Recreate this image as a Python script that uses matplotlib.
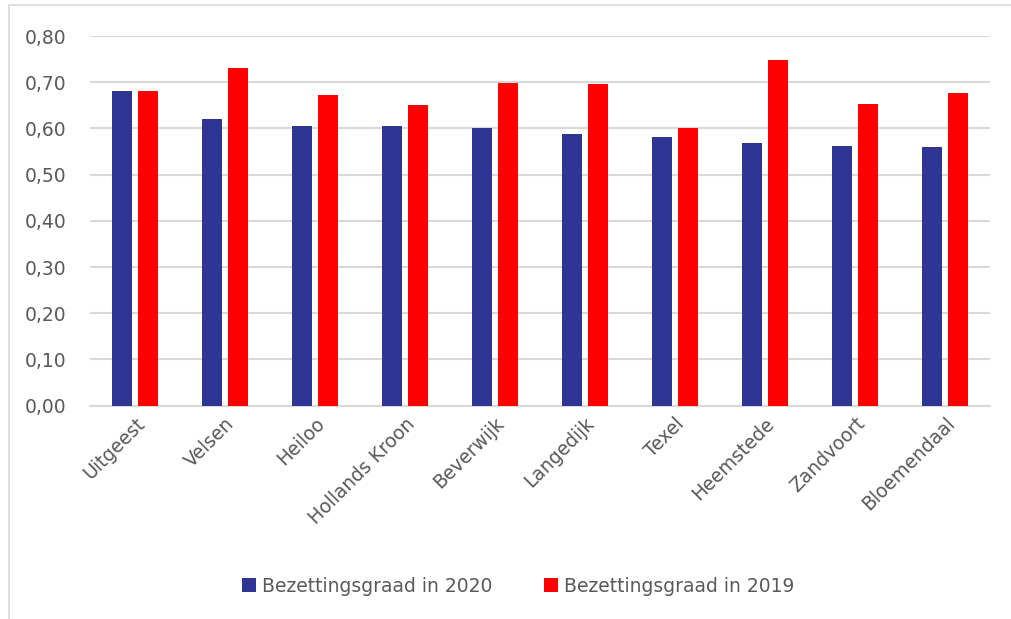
import numpy as np
import matplotlib.pyplot as plt
from matplotlib.ticker import FuncFormatter
from matplotlib.patches import Rectangle

# Bezettingsgraad per gemeente
gemeenten = ['Uitgeest', 'Velsen', 'Heiloo', 'Hollands Kroon', 'Beverwijk',
             'Langedijk', 'Texel', 'Heemstede', 'Zandvoort', 'Bloemendaal']
graad_2020 = [0.680, 0.621, 0.605, 0.605, 0.601, 0.588, 0.582, 0.568, 0.561, 0.559]
graad_2019 = [0.681, 0.731, 0.672, 0.651, 0.698, 0.696, 0.600, 0.748, 0.652, 0.677]

plt.rcParams['font.family'] = ['DejaVu Sans']
tekst_kleur = '#595959'
fs = 13.5

fig = plt.figure(figsize=(10.12, 6.19), dpi=100)
ax = fig.add_axes([0.0889, 0.3446, 0.8893, 0.5972])

x = np.arange(len(gemeenten))
breedte = 0.222
afstand = 0.067
ax.bar(x - (breedte + afstand) / 2, graad_2020, breedte, color='#2e3592',
       label='Bezettingsgraad in 2020', zorder=3)
ax.bar(x + (breedte + afstand) / 2, graad_2019, breedte, color='#ff0000',
       label='Bezettingsgraad in 2019', zorder=3)

ax.set_xlim(-0.5, len(gemeenten) - 0.5)
ax.set_ylim(0, 0.8)
ax.set_yticks(np.arange(0, 0.81, 0.1))
ax.yaxis.set_major_formatter(FuncFormatter(lambda v, p: f'{v:.2f}'.replace('.', ',')))
ax.grid(axis='y', color='#d9d9d9', lw=1.5, zorder=0)

ax.set_xticks(x)
ax.set_xticklabels(gemeenten, rotation=45, ha='right', rotation_mode='anchor')
ax.tick_params(axis='both', length=0, labelsize=fs, labelcolor=tekst_kleur)
ax.tick_params(axis='y', pad=17)
ax.tick_params(axis='x', pad=6)

for s in ['left', 'right', 'top']:
    ax.spines[s].set_visible(False)
ax.spines['bottom'].set_color('#d9d9d9')
ax.spines['bottom'].set_linewidth(1.5)

fig.legend(loc='center', bbox_to_anchor=(0.512, 0.053), ncol=2, frameon=False,
           fontsize=fs, labelcolor=tekst_kleur, handlelength=0.75,
           handleheight=0.75, handletextpad=0.3, columnspacing=2.8)

# lichte rand om de grafiek (links en boven)
fig.patches.append(Rectangle((0.009, -0.01), 1.1, 1.002, transform=fig.transFigure,
                             fill=False, edgecolor='#d9d9d9', lw=1.2))

plt.savefig('out.png', dpi=100)
